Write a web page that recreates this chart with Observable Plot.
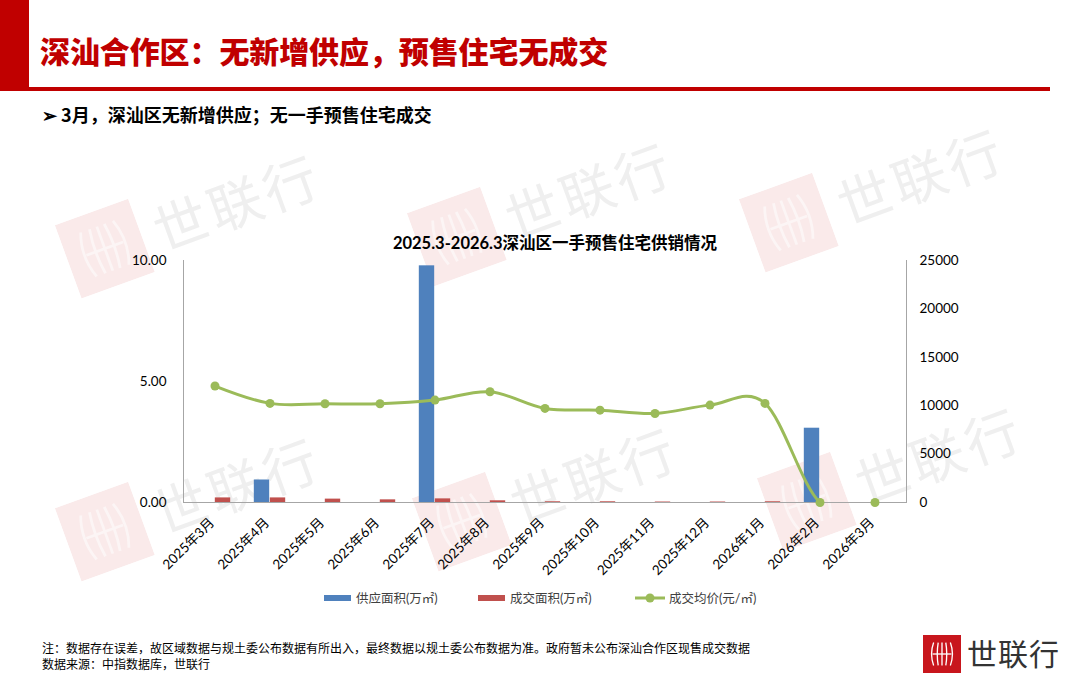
<!DOCTYPE html>
<html>
<head>
<meta charset="utf-8">
<script src="https://cdn.jsdelivr.net/npm/d3@7"></script>
<script src="https://cdn.jsdelivr.net/npm/@observablehq/plot@0.6"></script>
<style>
  html, body { margin:0; padding:0; background:#fff; }
  body { width:1080px; height:675px; position:relative; overflow:hidden; font-family: "Noto Sans CJK SC", sans-serif; }
  .abs { position:absolute; }
  .wm { position:absolute; transform: rotate(-20deg); transform-origin: left center; display:flex; align-items:center; gap:14px; opacity:0.55; pointer-events:none; }
  .wm .txt { font-family:"Noto Sans CJK SC", sans-serif; font-size:54px; color:#e2e2e2; letter-spacing:4px; }
  #chart { position:absolute; left:0; top:230px; }
  .leg { position:absolute; top:588px; font-size:12.5px; color:#404040; font-family: Lato, "Noto Sans CJK SC", sans-serif; display:flex; align-items:center; }
</style>
</head>
<body>
<div id="wms"></div>
<div class="abs" style="left:0;top:0;width:29px;height:89px;background:#C00000;"></div>
<div class="abs" style="left:0;top:87px;width:1050px;height:4px;background:#C00000;"></div>
<div class="abs" style="left:40px;top:28px;font-size:30px;font-weight:900;color:#C00000;letter-spacing:-0.1px;">深汕合作区：无新增供应，预售住宅无成交</div>
<div class="abs" style="left:42px;top:101px;font-size:18px;font-weight:700;color:#000;">➢ 3月，深汕区无新增供应；无一手预售住宅成交</div>
<div class="abs" style="left:0;width:1110px;top:230px;text-align:center;font-size:16.5px;font-weight:700;color:#000;font-family:Lato,'Noto Sans CJK SC',sans-serif;">2025.3-2026.3深汕区一手预售住宅供销情况</div>
<div id="chart"></div>
<div id="legend"></div>
<div class="abs" style="left:42px;top:640px;font-size:12px;color:#000;line-height:16px;">注：数据存在误差，故区域数据与规土委公布数据有所出入，最终数据以规土委公布数据为准。政府暂未公布深汕合作区现售成交数据<br>数据来源：中指数据库，世联行</div>
<div class="abs" style="left:923px;top:635px;width:38px;height:38px;" id="logo"></div>
<div class="abs" style="left:967px;top:632px;font-size:30px;color:#333;letter-spacing:1px;line-height:40px;">世联行</div>
<script>
// ---- data ----
const months = ["2025年3月","2025年4月","2025年5月","2025年6月","2025年7月","2025年8月","2025年9月","2025年10月","2025年11月","2025年12月","2026年1月","2026年2月","2026年3月"];
const supplyArea = [0, 0.93, 0, 0, 9.78, 0, 0, 0, 0, 0, 0, 3.07, 0];        // 供应面积(万㎡)
const salesArea  = [0.19, 0.19, 0.14, 0.11, 0.15, 0.07, 0.03, 0.03, 0.02, 0.02, 0.03, 0, 0]; // 成交面积(万㎡)
const avgPrice   = [12030, 10240, 10200, 10200, 10580, 11440, 9720, 9540, 9200, 10060, 10240, 0, 0]; // 成交均价(元/㎡)
const leftTicks  = [0, 5, 10];
const priceTicks = [0, 5000, 10000, 15000, 20000, 25000];
const seriesNames = ["供应面积(万㎡)", "成交面积(万㎡)", "成交均价(元/㎡)"];
const colors = ["#4F81BD", "#C0504D", "#9BBB59"];

const rows = months.map((m, i) => ({month: m, supply: supplyArea[i], sales: salesArea[i], price: avgPrice[i]}));
const ratio = priceTicks[priceTicks.length-1] / leftTicks[leftTicks.length-1];

const W = 1080, mL = 183, mR = 174;
const bw = (W - mL - mR) / months.length;
const barW = 16;

const chart = Plot.plot({
  width: W, height: 352,
  marginTop: 30, marginBottom: 80, marginLeft: mL, marginRight: mR,
  style: {background: "transparent", fontFamily: "Lato, 'Noto Sans CJK SC', sans-serif", fontSize: "13.5px", color: "#000"},
  x: {type: "band", domain: months, padding: 0},
  y: {domain: [0, 10]},
  marks: [
    Plot.frame({anchor: "left", stroke: "#A6A6A6"}),
    Plot.frame({anchor: "right", stroke: "#A6A6A6"}),
    Plot.frame({anchor: "bottom", stroke: "#A6A6A6"}),
    Plot.barY(rows, {x: "month", y: "supply", fill: colors[0], insetLeft: bw/2 - barW, insetRight: bw/2}),
    Plot.barY(rows, {x: "month", y: "sales", fill: colors[1], insetLeft: bw/2, insetRight: bw/2 - barW}),
    Plot.line(rows, {x: "month", y: d => d.price / ratio, stroke: colors[2], strokeWidth: 3, curve: "cardinal", tension: 0, clip: true}),
    Plot.dot(rows, {x: "month", y: d => d.price / ratio, r: 4.5, fill: colors[2]}),
    Plot.axisY({anchor: "left", ticks: leftTicks, tickFormat: d => d.toFixed(2), tickSize: 0, tickPadding: 17, label: null}),
    Plot.axisY({anchor: "right", ticks: priceTicks.map(v => v / ratio), tickFormat: d => String(Math.round(d * ratio)), tickSize: 0, tickPadding: 13, label: null}),
    Plot.axisX({tickRotate: -45, tickSize: 0, tickPadding: 18, dx: -3, label: null, fontSize: 13.5})
  ]
});
document.getElementById("chart").appendChild(chart);

// legend
const legend = document.getElementById("legend");
const legX = [324, 478, 635];
seriesNames.forEach((name, i) => {
  const el = document.createElement("div");
  el.className = "leg";
  el.style.left = legX[i] + "px";
  let sw;
  if (i < 2) sw = `<svg width="30" height="14"><rect x="0" y="4" width="27" height="6" fill="${colors[i]}"/></svg>`;
  else sw = `<svg width="32" height="14"><line x1="0" y1="7" x2="30" y2="7" stroke="${colors[i]}" stroke-width="3"/><circle cx="15" cy="7" r="4.5" fill="${colors[i]}"/></svg>`;
  el.innerHTML = sw + `<span style="margin-left:2px">${name}</span>`;
  legend.appendChild(el);
});

// logo graphic
function logoSVG(size, fill, line) {
  const s = size;
  let p = "";
  const xs = [0.28, 0.40, 0.5, 0.60, 0.72];
  xs.forEach((x) => {
    const bulge = (x - 0.5) * 0.5;
    p += `<path d="M${x*s},${0.2*s} Q${(x+bulge)*s},${0.5*s} ${x*s},${0.8*s}" stroke="${line}" stroke-width="${s*0.035}" fill="none"/>`;
  });
  p += `<line x1="${0.25*s}" y1="${0.5*s}" x2="${0.75*s}" y2="${0.5*s}" stroke="${line}" stroke-width="${s*0.035}"/>`;
  return `<svg width="${s}" height="${s}"><rect width="${s}" height="${s}" fill="${fill}"/>${p}</svg>`;
}
document.getElementById("logo").innerHTML = logoSVG(38, "#C8161D", "#fff");

// watermarks
const wmPos = [[68, 222], [420, 210], [752, 196], [68, 505], [425, 495], [770, 475]];
const wms = document.getElementById("wms");
wmPos.forEach(([x, y]) => {
  const d = document.createElement("div");
  d.className = "wm";
  d.style.left = x + "px"; d.style.top = y + "px";
  d.innerHTML = logoSVG(78, "#f6dada", "#fbeeee") + `<span class="txt">世联行</span>`;
  wms.appendChild(d);
});
</script>
</body>
</html>
